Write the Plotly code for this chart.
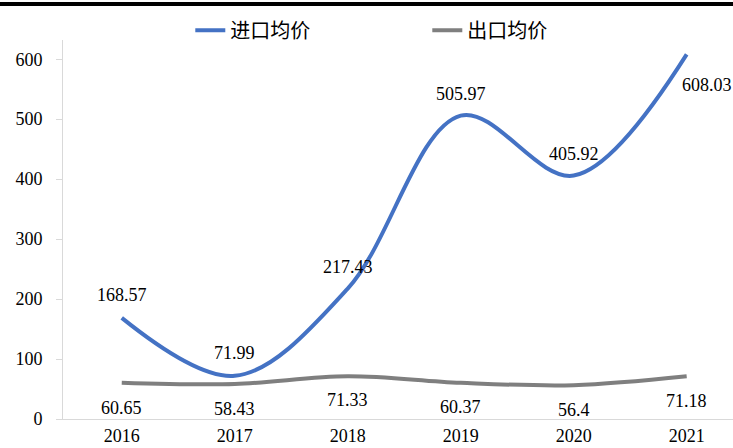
import plotly.graph_objects as go

# Annual average prices
years = ["2016", "2017", "2018", "2019", "2020", "2021"]
import_price = [168.57, 71.99, 217.43, 505.97, 405.92, 608.03]
export_price = [60.65, 58.43, 71.33, 60.37, 56.4, 71.18]
import_name = "进口均价"
export_name = "出口均价"

# label offsets in pixels (xshift, yshift) for each point
import_label_offsets = [(0, 23), (0, 23), (0, 22), (0, 22), (0, 22), (20, -31)]
export_label_offsets = [(0, -25), (0, -25), (0, -24), (0, -24), (0, -25), (0, -25)]

BLUE = "#4472C4"
GRAY = "#7F7F7F"
SERIF = "Times New Roman, Liberation Serif, DejaVu Serif, serif"
CJK = "Noto Sans CJK SC, sans-serif"

xi = list(range(len(years)))

fig = go.Figure()
fig.add_trace(go.Scatter(
    x=xi, y=import_price, name=import_name, mode="lines",
    line=dict(color=BLUE, width=4, shape="spline", smoothing=1.0),
))
fig.add_trace(go.Scatter(
    x=xi, y=export_price, name=export_name, mode="lines",
    line=dict(color=GRAY, width=4, shape="spline", smoothing=1.0),
))

annotations = []
for i, v in enumerate(import_price):
    dx, dy = import_label_offsets[i]
    annotations.append(dict(x=i, y=v, text=f"{v:g}", showarrow=False,
                            xshift=dx, yshift=dy,
                            font=dict(family=SERIF, size=18, color="#000")))
for i, v in enumerate(export_price):
    dx, dy = export_label_offsets[i]
    annotations.append(dict(x=i, y=v, text=f"{v:g}", showarrow=False,
                            xshift=dx, yshift=dy,
                            font=dict(family=SERIF, size=18, color="#000")))

fig.update_layout(
    width=733, height=448,
    margin=dict(l=63, r=0, t=40, b=29),
    paper_bgcolor="white", plot_bgcolor="white",
    showlegend=True,
    legend=dict(orientation="h", x=0.19, y=1.026, xanchor="left", yanchor="middle",
                font=dict(family=CJK, size=20, color="#000"),
                entrywidth=192, bgcolor="rgba(0,0,0,0)"),
    annotations=annotations,
    shapes=[dict(type="line", xref="paper", yref="paper",
                 x0=-0.2, x1=1.0, y0=1.095, y1=1.095, layer="above",
                 line=dict(color="black", width=4))],
    xaxis=dict(
        range=[-0.52, 5.41], tickmode="array", tickvals=xi, ticktext=years,
        showgrid=False, zeroline=False, showline=True, linecolor="#D9D9D9",
        linewidth=1, ticks="", tickfont=dict(family=SERIF, size=18, color="#000"),
    ),
    yaxis=dict(
        range=[0, 632], tickvals=[0, 100, 200, 300, 400, 500, 600],
        showgrid=False, zeroline=False, showline=True, linecolor="#D9D9D9",
        linewidth=1, ticks="outside", ticklen=6, tickcolor="#D9D9D9",
        ticklabelstandoff=10,
        tickfont=dict(family=SERIF, size=18, color="#000"),
    ),
)

fig.write_html("out.html")
